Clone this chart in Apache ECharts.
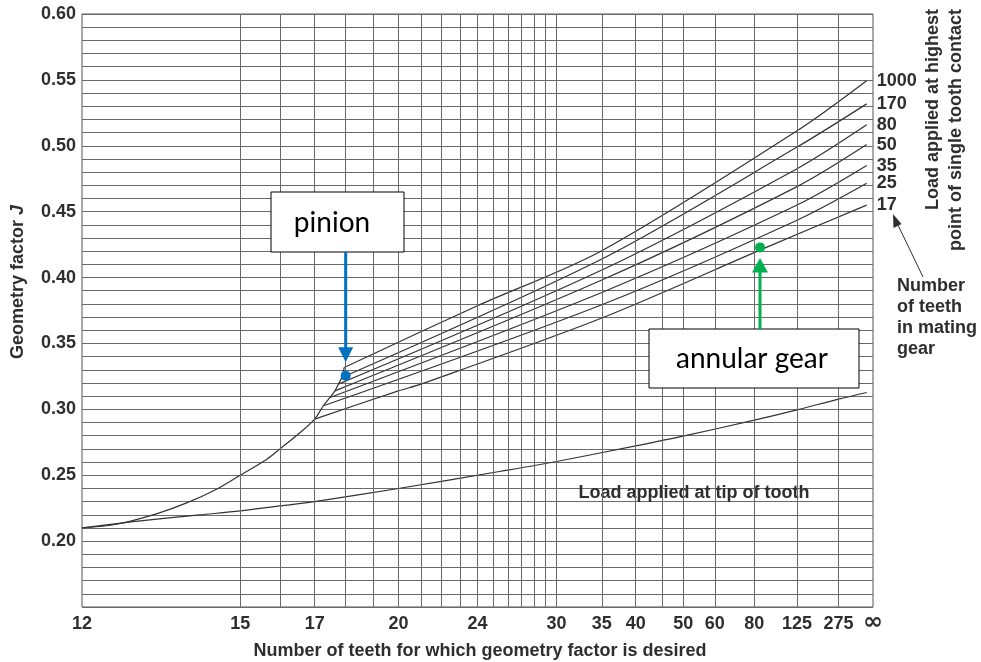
<!DOCTYPE html>
<html>
<head>
<meta charset="utf-8">
<script src="https://cdn.jsdelivr.net/npm/echarts@6/dist/echarts.min.js"></script>
<style>
  html, body { margin: 0; padding: 0; background: #fff; }
  #chart { width: 981px; height: 662px; }
</style>
</head>
<body>
<div id="chart"></div>
<script>
// Tooth counts printed under the horizontal axis (Infinity = rack)
const teethLabels = [12, 15, 17, 20, 24, 30, 35, 40, 50, 60, 80, 125, 275, Infinity];
// Tooth counts that carry a vertical rule
const teethRules = [15, 16, 17, 18, 19, 20, 21, 22, 23, 24, 25, 26, 27, 28, 29, 30,
                    35, 40, 45, 50, 60, 80, 125, 275];

// Geometry factor J against pinion teeth: [teeth, J]
const envelopeCurve = [
  [12, 0.210], [12.55, 0.2128], [13.26, 0.2209], [13.83, 0.229], [14.46, 0.2394],
  [15, 0.250], [15.66, 0.2622], [16, 0.2698], [16.57, 0.2824], [17, 0.2926],
  [17.27, 0.3027], [17.48, 0.309], [17.64, 0.314], [17.75, 0.3191], [17.87, 0.3242],
  [17.95, 0.3318]
];
const tipLoadCurve = [
  [12, 0.210], [12.83, 0.2148], [14.1, 0.2199], [15, 0.2229], [16, 0.2267],
  [17, 0.230], [20, 0.2399], [25.4, 0.2528], [30, 0.2604], [40, 0.2723],
  [50, 0.2797], [80, 0.2918], [125, 0.2996], [275, 0.3078], [1500, 0.3128]
];
// Load at highest point of single tooth contact, one line per mating gear
const matingTeeth = ['1000', '170', '80', '50', '35', '25', '17'];
const mate1000 = [[17.95, 0.3318], [24, 0.3786], [35, 0.4204], [125, 0.5114], [1500, 0.5494]];
const mate170  = [[17.87, 0.3242], [35, 0.4141], [125, 0.4990], [1500, 0.5318]];
const mate80   = [[17.75, 0.3191], [35, 0.4057], [125, 0.4826], [1500, 0.5159]];
const mate50   = [[17.64, 0.3140], [35, 0.3981], [125, 0.4690], [1500, 0.5009]];
const mate35   = [[17.48, 0.3090], [35, 0.3887], [125, 0.4550], [1500, 0.4850]];
const mate25   = [[17.27, 0.3027], [35, 0.3794], [125, 0.4435], [1500, 0.4715]];
const mate17   = [[17.00, 0.2926], [20, 0.3140], [21, 0.3191], [35, 0.3693], [89, 0.4229], [1500, 0.4550]];
const matingLines = [mate1000, mate170, mate80, mate50, mate35, mate25, mate17];

// Marked operating points
const pinionPoint = [18, 0.3255];
const annularPoint = [84, 0.4229];

// The horizontal scale is linear in 1/N
const inv = n => (n === Infinity ? 0 : 1 / n);
const toAxis = ([n, j]) => [inv(n), j];

const INK = '#2e2e2e';
const RULE = '#6a6a6a';
const FONT = '"Liberation Sans", Arial, sans-serif';

const chart = echarts.init(document.getElementById('chart'), null, { renderer: 'canvas' });

const curveStyle = { color: '#333', width: 1.2 };
const curve = (name, pts) => ({
  type: 'line', name, data: pts.map(toAxis),
  smooth: 0.3, showSymbol: false, silent: true,
  lineStyle: curveStyle, z: 3
});

const series = [
  Object.assign(curve('tip', tipLoadCurve), {
    markLine: {
      silent: true, symbol: 'none', animation: false, precision: 10,
      label: { show: false },
      lineStyle: { color: RULE, width: 1, type: 'solid' },
      data: teethRules.map(n => ({ xAxis: inv(n) }))
    }
  }),
  curve('envelope', envelopeCurve)
];
matingLines.forEach((pts, i) => series.push(curve(matingTeeth[i], pts)));

// Mating-gear captions at the right-hand end of each line
series.push({
  type: 'scatter', silent: true, symbolSize: 0, z: 4,
  itemStyle: { opacity: 1, color: INK },
  data: matingLines.map((pts, i) => ({ name: matingTeeth[i], value: toAxis(pts[pts.length - 1]) })),
  label: {
    show: true, position: 'right', distance: 10, formatter: '{b}', opacity: 1,
    fontFamily: FONT, fontWeight: 'bold', fontSize: 18, color: INK
  }
});
series.push({
  type: 'scatter', data: [
    { value: toAxis(pinionPoint), itemStyle: { color: '#0070C0', opacity: 1 } },
    { value: toAxis(annularPoint), itemStyle: { color: '#00B050', opacity: 1 } }
  ],
  symbolSize: 10, silent: true, z: 5
});

chart.setOption({
  animation: false,
  backgroundColor: '#fff',
  grid: {
    left: 82, right: 108, top: 14, bottom: 55, containLabel: false,
    show: true, borderColor: '#555', borderWidth: 1, backgroundColor: 'transparent'
  },
  xAxis: {
    type: 'value', min: 0, max: 1 / 12, inverse: true,
    axisLine: { show: false }, axisTick: { show: false }, splitLine: { show: false },
    axisLabel: {
      customValues: teethLabels.map(inv),
      formatter: v => (v === 0 ? '{inf|∞}' : String(Math.round(1 / v))),
      margin: 8, fontFamily: FONT, fontWeight: 'bold', fontSize: 18, color: INK,
      rich: { inf: { fontFamily: 'DejaVu Sans', fontWeight: 'bold', fontSize: 24, lineHeight: 16, color: INK } }
    }
  },
  yAxis: {
    type: 'value', min: 0.15, max: 0.60, interval: 0.01,
    axisLine: { show: false }, axisTick: { show: false },
    splitLine: { show: true, lineStyle: { color: RULE, width: 1 } },
    axisLabel: {
      formatter: v => {
        const k = Math.round(v * 100);
        return (k % 5 === 0 && k >= 20) ? (k / 100).toFixed(2) : '';
      },
      margin: 6, fontFamily: FONT, fontWeight: 'bold', fontSize: 18, color: INK
    }
  },
  series
});

// Annotations tied to the marked points
const pin = chart.convertToPixel({ gridIndex: 0 }, toAxis(pinionPoint));
const ann = chart.convertToPixel({ gridIndex: 0 }, toAxis(annularPoint));
const BLUE = '#0070C0', GREEN = '#00B050';
const BOX_FONT = '28px Lato, "Open Sans", sans-serif';
const LABEL_FONT = 'bold 18px ' + FONT;

const pinBox = { x: 271, y: 192, w: 133, h: 60 };
const annBox = { x: 649, y: 329, w: 210, h: 59 };

chart.setOption({
  graphic: [
    // axis titles
    {
      type: 'text', x: 18, y: 282, rotation: Math.PI / 2,
      style: {
        text: 'Geometry factor {i|J}', font: LABEL_FONT, fill: INK,
        align: 'center', verticalAlign: 'middle',
        rich: { i: { fontStyle: 'italic', fontWeight: 'bold', fontSize: 18, fontFamily: FONT, fill: INK } }
      }
    },
    {
      type: 'text', x: 480, y: 651,
      style: {
        text: 'Number of teeth for which geometry factor is desired',
        font: LABEL_FONT, fill: INK, align: 'center', verticalAlign: 'middle'
      }
    },
    // family captions
    {
      type: 'text', x: 933, y: 9, rotation: Math.PI / 2,
      style: { text: 'Load applied at highest', font: LABEL_FONT, fill: INK, align: 'right', verticalAlign: 'middle' }
    },
    {
      type: 'text', x: 956, y: 9, rotation: Math.PI / 2,
      style: { text: 'point of single tooth contact', font: LABEL_FONT, fill: INK, align: 'right', verticalAlign: 'middle' }
    },
    {
      type: 'text', x: 897, y: 276,
      style: {
        text: 'Number\nof teeth\nin mating\ngear', font: LABEL_FONT, fill: INK,
        align: 'left', verticalAlign: 'top', lineHeight: 21
      }
    },
    {
      type: 'line', shape: { x1: 923, y1: 277, x2: 897, y2: 223 },
      style: { stroke: INK, lineWidth: 1 }
    },
    {
      type: 'polygon', shape: { points: [[893, 214], [893.5, 228], [901.5, 224]] },
      style: { fill: INK }
    },
    {
      type: 'text', x: 694, y: 493,
      style: { text: 'Load applied at tip of tooth', font: LABEL_FONT, fill: INK, align: 'center', verticalAlign: 'middle' }
    },
    // pinion callout
    {
      type: 'rect', shape: { x: pinBox.x, y: pinBox.y, width: pinBox.w, height: pinBox.h },
      style: { fill: '#fff', stroke: '#000', lineWidth: 1 }, z: 10
    },
    {
      type: 'text', x: 332, y: 223, z: 11,
      style: { text: 'pinion', font: BOX_FONT, fill: '#000', align: 'center', verticalAlign: 'middle' }
    },
    {
      type: 'line', z: 10,
      shape: { x1: pin[0], y1: pinBox.y + pinBox.h, x2: pin[0], y2: pin[1] - 27 },
      style: { stroke: BLUE, lineWidth: 3 }
    },
    {
      type: 'polygon', z: 10,
      shape: { points: [[pin[0] - 7.5, pin[1] - 28.5], [pin[0] + 7.5, pin[1] - 28.5], [pin[0], pin[1] - 13.5]] },
      style: { fill: BLUE }
    },
    // annular gear callout
    {
      type: 'rect', shape: { x: annBox.x, y: annBox.y, width: annBox.w, height: annBox.h },
      style: { fill: '#fff', stroke: '#000', lineWidth: 1 }, z: 10
    },
    {
      type: 'text', x: 752, y: 359, z: 11,
      style: { text: 'annular gear', font: BOX_FONT, fill: '#000', align: 'center', verticalAlign: 'middle' }
    },
    {
      type: 'line', z: 10,
      shape: { x1: ann[0], y1: annBox.y, x2: ann[0], y2: ann[1] + 24 },
      style: { stroke: GREEN, lineWidth: 3 }
    },
    {
      type: 'polygon', z: 10,
      shape: { points: [[ann[0] - 8, ann[1] + 25], [ann[0] + 8, ann[1] + 25], [ann[0], ann[1] + 10.5]] },
      style: { fill: GREEN }
    }
  ]
});
</script>
</body>
</html>
